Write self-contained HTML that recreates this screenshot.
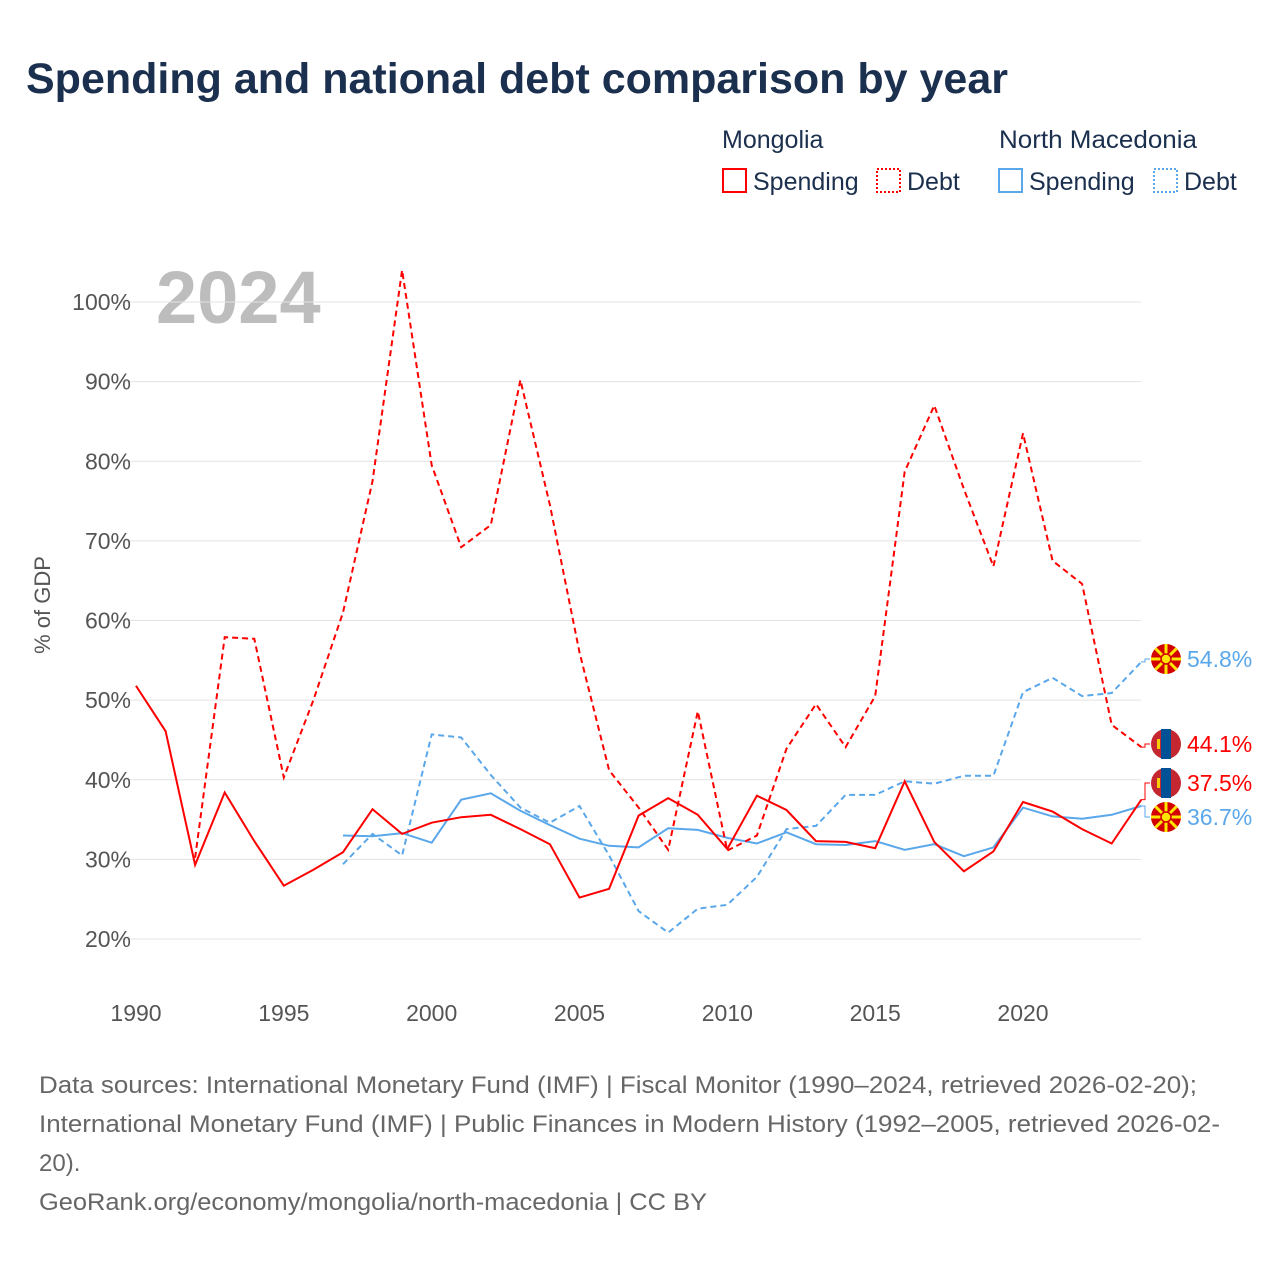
<!DOCTYPE html>
<html><head><meta charset="utf-8"><style>
body{margin:0;background:#fff;font-family:"Liberation Sans",sans-serif;}
svg{display:block}
</style></head><body>
<svg id="chart" width="1280" height="1280" viewBox="0 0 1280 1280">
<text x="26" y="93" font-size="43" font-weight="bold" fill="#1b2f4e">Spending and national debt comparison by year</text>
<g font-size="25" fill="#1b2f4e">
<text x="722" y="148">Mongolia</text>
<text x="999" y="148" textLength="198" lengthAdjust="spacingAndGlyphs">North Macedonia</text>
<g><rect x="723" y="169" width="23" height="23" fill="none" stroke="#f00" stroke-width="2"/><text x="753" y="190">Spending</text></g>
<g><rect x="877" y="169" width="23" height="23" fill="none" stroke="#f00" stroke-width="2" stroke-dasharray="2,2"/><text x="907" y="190">Debt</text></g>
<g><rect x="999" y="169" width="23" height="23" fill="none" stroke="#5aa7ea" stroke-width="2"/><text x="1029" y="190">Spending</text></g>
<g><rect x="1154" y="169" width="23" height="23" fill="none" stroke="#5aa7ea" stroke-width="2" stroke-dasharray="2,2"/><text x="1184" y="190">Debt</text></g>
</g>
<text x="156" y="323" font-size="74" font-weight="bold" fill="#bdbdbd">2024</text>
<text transform="translate(50,605) rotate(-90)" text-anchor="middle" font-size="22" fill="#555">% of GDP</text>
<g id="grid"></g><g id="series"></g><g id="labels"></g>
<g font-size="24" fill="#666">
<text x="39" y="1093" textLength="1158" lengthAdjust="spacingAndGlyphs">Data sources: International Monetary Fund (IMF) | Fiscal Monitor (1990–2024, retrieved 2026-02-20);</text>
<text x="39" y="1132" textLength="1181" lengthAdjust="spacingAndGlyphs">International Monetary Fund (IMF) | Public Finances in Modern History (1992–2005, retrieved 2026-02-</text>
<text x="39" y="1171">20).</text>
<text x="39" y="1210" textLength="668" lengthAdjust="spacingAndGlyphs">GeoRank.org/economy/mongolia/north-macedonia | CC BY</text>
</g>
</svg>
<script>
const yTicks=[20,30,40,50,60,70,80,90,100];
const xTicks=[1990,1995,2000,2005,2010,2015,2020];
const mnSpendYears=[1990,1991,1992,1993,1994,1995,1996,1997,1998,1999,2000,2001,2002,2003,2004,2005,2006,2007,2008,2009,2010,2011,2012,2013,2014,2015,2016,2017,2018,2019,2020,2021,2022,2023,2024];
const mnSpend=[51.8,46.1,29.3,38.4,32.3,26.7,28.7,30.9,36.3,33.2,34.6,35.3,35.6,33.8,31.9,25.2,26.3,35.5,37.7,35.6,31.3,38.0,36.2,32.3,32.2,31.4,39.8,32.2,28.5,31.0,37.2,36.0,33.8,32.0,37.5];
const mnDebtYears=[1992,1993,1994,1995,1996,1997,1998,1999,2000,2001,2002,2003,2004,2005,2006,2007,2008,2009,2010,2011,2012,2013,2014,2015,2016,2017,2018,2019,2020,2021,2022,2023,2024];
const mnDebt=[30.2,57.9,57.7,40.3,50.0,61.0,77.5,104.0,79.5,69.2,72.0,90.2,74.5,56.0,41.2,36.5,31.2,48.6,31.1,33.0,43.9,49.5,44.1,50.5,78.7,87.0,76.5,66.8,83.5,67.5,64.6,46.9,44.1];
const nmYears=[1997,1998,1999,2000,2001,2002,2003,2004,2005,2006,2007,2008,2009,2010,2011,2012,2013,2014,2015,2016,2017,2018,2019,2020,2021,2022,2023,2024];
const nmSpend=[33.0,32.9,33.3,32.1,37.5,38.3,36.1,34.3,32.6,31.7,31.5,33.9,33.7,32.7,32.0,33.4,31.9,31.8,32.3,31.2,31.9,30.4,31.5,36.5,35.4,35.1,35.6,36.7];
const nmDebt=[29.4,33.2,30.5,45.7,45.3,40.6,36.5,34.6,36.7,30.5,23.5,20.8,23.8,24.3,27.8,33.8,34.2,38.1,38.1,39.8,39.5,40.5,40.5,51.0,52.8,50.5,50.9,54.8];

const NS="http://www.w3.org/2000/svg";
const x=yr=>136+(yr-1990)*(1023-136)/30;
const y=v=>939-(v-20)*(939-302)/80;
function mk(t,a,p){const e=document.createElementNS(NS,t);for(const k in a)e.setAttribute(k,a[k]);p.appendChild(e);return e;}
const grid=document.getElementById('grid');
yTicks.forEach(v=>{
 const l=mk('line',{x1:120,x2:1141,y1:y(v),y2:y(v),stroke:'#e3e3e3','stroke-width':1},grid);
 
 
 const t=mk('text',{x:131,y:y(v)+8,'text-anchor':'end','font-size':23,fill:'#555'},grid);
 t.textContent=v+'%';
 
 
});
xTicks.forEach(v=>{
 const t=mk('text',{x:x(v),y:1021,'text-anchor':'middle','font-size':23,fill:'#555'},grid);
 t.textContent=v;
 
 
});
const ser=document.getElementById('series');
function line(yrs,vals,col,dash,name){
 const d=yrs.map((yr,i)=>(i?'L':'M')+x(yr).toFixed(1)+','+y(vals[i]).toFixed(1)).join('');
 const p=mk('path',{d:d,fill:'none',stroke:col,'stroke-width':2,'stroke-dasharray':dash},ser);
 
 
}
line(nmYears,nmDebt,'#5aa7ea','6,4','line-nm-debt');
line(nmYears,nmSpend,'#5aa7ea','none','line-nm-spending');
line(mnDebtYears,mnDebt,'#f00','6,4','line-mongolia-debt');
line(mnSpendYears,mnSpend,'#f00','none','line-mongolia-spending');

const lab=document.getElementById('labels');
function flag(cy,type,val,col,vy,name){
 const g=mk('g',{},lab);
 
 
 if(Math.abs(cy-vy)>2){mk('path',{d:`M1141,${vy}H1145V${cy}H1150`,fill:'none',stroke:col,'stroke-width':1},g);}
 if(type==='mn'){
  mk('circle',{cx:1166,cy:cy,r:15,fill:'#c4272f'},g);
  mk('rect',{x:1161,y:cy-15,width:10,height:30,fill:'#015197'},g);
  mk('rect',{x:1157,y:cy-5,width:3,height:10,fill:'#f9cf02'},g);
 }else{
  mk('circle',{cx:1166,cy:cy,r:15,fill:'#d20000'},g);
  for(let a=0;a<8;a++){const r=a*Math.PI/4;mk('line',{x1:1166,y1:cy,x2:1166+15*Math.cos(r),y2:cy+15*Math.sin(r),stroke:'#ffe600','stroke-width':3},g);}
  mk('circle',{cx:1166,cy:cy,r:5,fill:'#ffe600',stroke:'#d20000','stroke-width':1.5},g);
 }
 const t=mk('text',{x:1187,y:cy+8,'font-size':23,fill:col},g);
 t.textContent=val.toFixed(1)+'%';
}
flag(659,'nm',nmDebt[nmDebt.length-1],'#5aa7ea',y(nmDebt[nmDebt.length-1]),'label-nm-debt');
flag(744,'mn',mnDebt[mnDebt.length-1],'#f00',y(mnDebt[mnDebt.length-1]),'label-mongolia-debt');
flag(783,'mn',mnSpend[mnSpend.length-1],'#f00',y(mnSpend[mnSpend.length-1]),'label-mongolia-spending');
flag(817,'nm',nmSpend[nmSpend.length-1],'#5aa7ea',y(nmSpend[nmSpend.length-1]),'label-nm-spending');
</script>
</body></html>
